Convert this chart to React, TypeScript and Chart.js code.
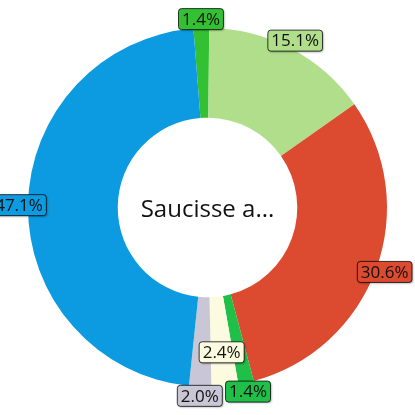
import { useEffect, useRef } from "react"
import { Chart, registerables } from "chart.js"

Chart.register(...registerables)

const sliceNames = ["Part 1", "Part 2", "Part 3", "Part 4", "Part 5", "Part 6", "Part 7"]
const sliceValues = [1.4, 15.1, 30.6, 1.4, 2.4, 2.0, 47.1]
const sliceColors = ["#33c133", "#b0de8b", "#dc4a2f", "#1fbf48", "#fcfbdf", "#c9c7d6", "#0c9be0"]
const centerTitle = "Saucisse a..."

const FONT = "'Open Sans', 'Noto Sans', sans-serif"

// boxed percentage labels at the rim, pushed inward when they collide
const boxLabels = {
  id: "boxLabels",
  afterDatasetsDraw(chart: any) {
    const ctx = chart.ctx
    const meta = chart.getDatasetMeta(0)
    const placed: { x: number; y: number; w: number; h: number }[] = []
    ctx.save()
    ctx.font = `17px ${FONT}`
    ctx.textAlign = "center"
    ctx.textBaseline = "middle"
    meta.data.forEach((arc: any, i: number) => {
      const p = arc.getProps(["x", "y", "startAngle", "endAngle", "outerRadius"], true)
      const mid = (p.startAngle + p.endAngle) / 2
      const text = sliceValues[i].toFixed(1) + "%"
      const w = ctx.measureText(text).width + 7
      const h = 21
      const boxAt = (r: number) => ({
        x: p.x + Math.cos(mid) * r - w / 2,
        y: p.y + Math.sin(mid) * r - h / 2,
        w,
        h,
      })
      const hits = (b: any) =>
        placed.some((o) => b.x < o.x + o.w && b.x + b.w > o.x && b.y < o.y + o.h && b.y + b.h > o.y)
      let box = boxAt(p.outerRadius + 9)
      if (hits(box)) box = boxAt(p.outerRadius - 34)
      placed.push(box)

      ctx.save()
      ctx.shadowColor = "rgba(0,0,0,0.35)"
      ctx.shadowBlur = 2
      ctx.shadowOffsetX = 1
      ctx.shadowOffsetY = 1
      ctx.beginPath()
      ctx.roundRect(box.x, box.y, box.w, box.h, 3)
      ctx.fillStyle = sliceColors[i]
      ctx.fill()
      ctx.restore()
      ctx.lineWidth = 1
      ctx.strokeStyle = "rgba(0,0,0,0.75)"
      ctx.stroke()
      ctx.fillStyle = "#111"
      ctx.fillText(text, box.x + box.w / 2, box.y + box.h / 2 + 1)
    })
    ctx.restore()
  },
}

const centerText = {
  id: "centerText",
  afterDraw(chart: any) {
    const arc = chart.getDatasetMeta(0).data[0]
    if (!arc) return
    const ctx = chart.ctx
    ctx.save()
    ctx.font = `24px ${FONT}`
    ctx.fillStyle = "#111"
    ctx.textAlign = "center"
    ctx.textBaseline = "middle"
    ctx.fillText(centerTitle, arc.x, arc.y + 3)
    ctx.restore()
  },
}

function SaucisseDonut() {
  const chartRef = useRef<HTMLCanvasElement>(null)
  const chartInstance = useRef<Chart | null>(null)

  useEffect(() => {
    if (!chartRef.current) return
    if (chartInstance.current) chartInstance.current.destroy()

    const ctx = chartRef.current.getContext("2d")
    if (!ctx) return

    chartInstance.current = new Chart(ctx, {
      type: "doughnut",
      data: {
        labels: sliceNames,
        datasets: [
          {
            data: sliceValues,
            backgroundColor: sliceColors,
            borderWidth: 0,
          },
        ],
      },
      options: {
        responsive: true,
        maintainAspectRatio: false,
        animation: false,
        cutout: "50%",
        rotation: -4.5,
        layout: { padding: 28 },
        plugins: {
          legend: { display: false },
          tooltip: { enabled: false },
        },
      },
      plugins: [boxLabels, centerText],
    })

    return () => {
      if (chartInstance.current) {
        chartInstance.current.destroy()
        chartInstance.current = null
      }
    }
  }, [])

  return (
    <div style={{ position: "fixed", left: 0, top: 0, width: 415, height: 415, background: "#fff" }}>
      <canvas ref={chartRef} />
    </div>
  )
}

export default function App() {
  return <SaucisseDonut />
}
